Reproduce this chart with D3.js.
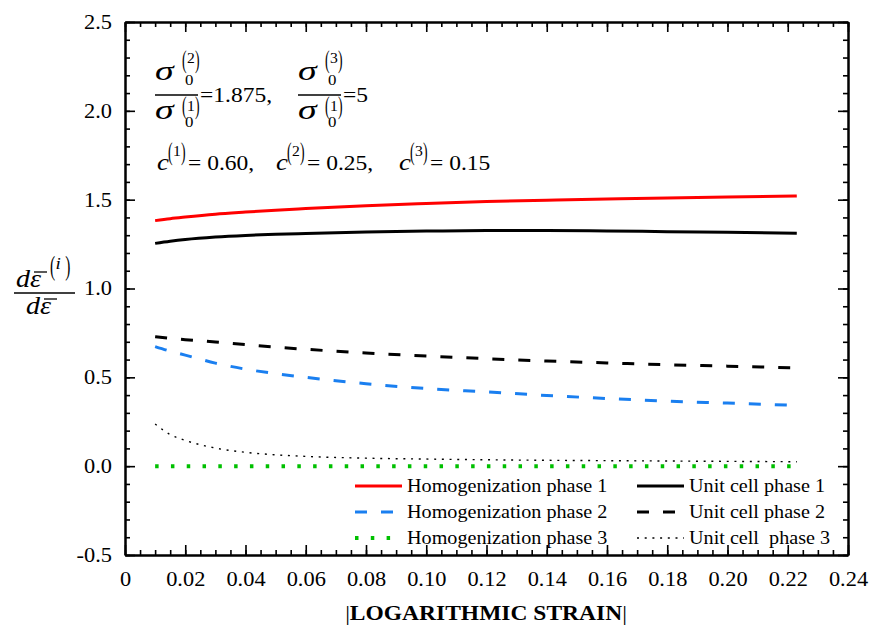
<!DOCTYPE html>
<html><head><meta charset="utf-8">
<script src="https://cdn.jsdelivr.net/npm/d3@7/dist/d3.min.js"></script>
<style>
body{margin:0;background:#fff;}
svg{display:block;}
svg text{font-family:"Liberation Serif","Times New Roman",serif;}
</style></head>
<body><svg id="c" width="872" height="627"></svg>
<script>
// ---- data ----
const strain = [0.01,0.015,0.02,0.03,0.04,0.05,0.06,0.08,0.10,0.12,0.14,0.16,0.18,0.20,0.223];
const homog1 = [1.382,1.393,1.402,1.418,1.430,1.441,1.450,1.466,1.478,1.489,1.497,1.504,1.510,1.515,1.521];
const cell1  = [1.254,1.266,1.276,1.290,1.299,1.305,1.310,1.318,1.323,1.326,1.326,1.324,1.320,1.316,1.311];
const homog2 = [0.673,0.647,0.625,0.580,0.546,0.521,0.500,0.464,0.437,0.418,0.398,0.381,0.366,0.355,0.342];
const cell2  = [0.729,0.720,0.712,0.699,0.684,0.670,0.658,0.637,0.620,0.605,0.592,0.581,0.571,0.563,0.553];
const homog3 = [0,0,0,0,0,0,0,0,0,0,0,0,0,0,0];
const cell3  = [0.237,0.178,0.145,0.102,0.078,0.064,0.055,0.045,0.040,0.036,0.033,0.031,0.029,0.027,0.025];
const seriesNames = ["Homogenization phase 1","Homogenization phase 2","Homogenization phase 3",
                     "Unit cell phase 1","Unit cell phase 2","Unit cell  phase 3"];
const xTickValues = [0,0.02,0.04,0.06,0.08,0.10,0.12,0.14,0.16,0.18,0.20,0.22,0.24];
const xTickLabels = ["0","0.02","0.04","0.06","0.08","0.10","0.12","0.14","0.16","0.18","0.20","0.22","0.24"];
const yTickValues = [-0.5,0,0.5,1.0,1.5,2.0,2.5];
const yTickLabels = ["-0.5","0.0","0.5","1.0","1.5","2.0","2.5"];
const xTitle = "LOGARITHMIC STRAIN";

// ---- layout ----
const SX = 1.12;
const FONT = "Liberation Serif";
const L = 125, R = 848, T = 22, B = 555;
const svg = d3.select("#c");
const x = d3.scaleLinear().domain([0,0.24]).range([L,R]);
const y = d3.scaleLinear().domain([-0.5,2.5]).range([B,T]);

const styles = [
  {c:"#ff0000", w:3, d:null},
  {c:"#1a7ff0", w:3, d:"12 14"},
  {c:"#00c000", w:4, d:"3.5 12.3"},
  {c:"#000000", w:3, d:null},
  {c:"#000000", w:3, d:"12 14"},
  {c:"#000000", w:1.4, d:"2 5.7"}
];
const allSeries = [homog1,homog2,homog3,cell1,cell2,cell3];

// axes
const xMinor = d3.range(0,0.2401,0.005);
const yMinor = d3.range(-0.5,2.501,0.1);
function styleAxis(g){
  g.attr("font-family",FONT);
  g.selectAll("path.domain").attr("stroke","#000").attr("stroke-width",2);
  g.selectAll(".tick line").attr("stroke","#000").attr("stroke-width",1.6);
}
function plainAxis(axis, tx, ty){
  svg.append("g").attr("transform",`translate(${tx},${ty})`)
    .call(axis).call(styleAxis).call(g=>g.selectAll("text").remove());
}
plainAxis(d3.axisBottom(x).tickValues(xMinor).tickSize(-5).tickSizeOuter(0).tickFormat(""),0,B);
plainAxis(d3.axisTop(x).tickValues(xMinor).tickSize(-5).tickSizeOuter(0).tickFormat(""),0,T);
plainAxis(d3.axisTop(x).tickValues(xTickValues).tickSize(-10).tickSizeOuter(0).tickFormat(""),0,T);
plainAxis(d3.axisLeft(y).tickValues(yMinor).tickSize(-5).tickSizeOuter(0).tickFormat(""),L,0);
plainAxis(d3.axisRight(y).tickValues(yMinor).tickSize(-5).tickSizeOuter(0).tickFormat(""),R,0);
plainAxis(d3.axisRight(y).tickValues(yTickValues).tickSize(-10).tickSizeOuter(0).tickFormat(""),R,0);

const gx = svg.append("g").attr("transform",`translate(0,${B})`)
  .call(d3.axisBottom(x).tickValues(xTickValues).tickSize(-10).tickSizeOuter(0).tickPadding(17)
     .tickFormat((d,i)=>xTickLabels[i]))
  .call(styleAxis);
gx.selectAll("text").attr("font-size",20).attr("font-family",FONT).attr("fill","#000")
  .attr("transform",`scale(${SX},1)`);
const gy = svg.append("g").attr("transform",`translate(${L},0)`)
  .call(d3.axisLeft(y).tickValues(yTickValues).tickSize(-10).tickSizeOuter(0).tickPadding(13)
     .tickFormat((d,i)=>yTickLabels[i]))
  .call(styleAxis);
gy.selectAll("text").attr("font-size",20).attr("font-family",FONT).attr("fill","#000")
  .attr("x",-13/SX).attr("transform",`scale(${SX},1)`);

// lines
const line = d3.line().x(d=>x(d[0])).y(d=>y(d[1])).curve(d3.curveMonotoneX);
allSeries.forEach((s,i)=>{
  const st = styles[i];
  svg.append("path").datum(strain.map((v,j)=>[v,s[j]]))
    .attr("d",line).attr("fill","none").attr("stroke",st.c).attr("stroke-width",st.w)
    .attr("stroke-dasharray",st.d);
});

// text helper
function txt(px,py,str,size,opt={}){
  const sx = opt.sx || SX;
  const t = svg.append("text").attr("transform",`translate(${px},${py}) scale(${sx},1)`)
    .attr("font-size",size).attr("font-family",FONT).attr("fill","#000")
    .style("white-space","pre").text(str);
  if(opt.italic) t.attr("font-style","italic");
  if(opt.bold) t.attr("font-weight","bold");
  if(opt.anchor) t.attr("text-anchor",opt.anchor);
  return t;
}
function hline(x1,x2,yy,w=1.2){
  svg.append("line").attr("x1",x1).attr("x2",x2).attr("y1",yy).attr("y2",yy)
    .attr("stroke","#000").attr("stroke-width",w);
}
// parenthesised superscript: thin tall parentheses around a small label
function paren(x0, base, inner, pSize, iSize, iBase, iItalic){
  const psx = 0.55, pw = 0.333*pSize*psx, iw = 0.5*iSize*SX;
  txt(x0, base, "(", pSize, {sx:psx});
  txt(x0+pw+0.3, iBase, inner, iSize, {italic:iItalic});
  txt(x0+pw+iw+0.6, base, ")", pSize, {sx:psx});
}

// legend
const legCols = [355, 637];
const legRows = [486, 512, 538];
allSeries.forEach((s,i)=>{
  const col = Math.floor(i/3), row = i%3, st = styles[i];
  const lx = legCols[col], ly = legRows[row];
  svg.append("line").attr("x1",lx).attr("x2",lx+47).attr("y1",ly).attr("y2",ly)
    .attr("stroke",st.c).attr("stroke-width",st.w).attr("stroke-dasharray",st.d);
  txt(lx+52, ly+6, seriesNames[i], 18);
});

// x title
const xt = txt(486, 620, "", 21, {anchor:"middle"});
xt.append("tspan").text("|");
xt.append("tspan").attr("font-weight","bold").text(xTitle);
xt.append("tspan").text("|");

// y title: d eps-bar^(i) / d eps-bar
txt(16, 287, "d", 25, {italic:true});
txt(30, 287, "ε", 25, {italic:true});
hline(34, 47, 272, 1.3);
paren(50, 275, "i", 28, 17, 269, true);
hline(14, 75, 293, 1.3);
txt(26, 314, "d", 25, {italic:true});
txt(40, 314, "ε", 25, {italic:true});
hline(44, 57, 299, 1.3);

// annotations
function sigmaFrac(x0, top, bot){
  txt(x0, 80, "σ", 27, {italic:true, sx:1.4});
  txt(x0+30, 85, "0", 15);
  paren(x0+27, 68, top, 25, 14, 63, false);
  hline(x0, x0+43, 95, 1.3);
  txt(x0, 119, "σ", 27, {italic:true, sx:1.4});
  txt(x0+30, 127, "0", 15);
  paren(x0+27, 114, bot, 25, 14, 111, false);
}
sigmaFrac(155, "2", "1");
txt(200, 102, "=1.875,", 21);
sigmaFrac(298, "3", "1");
txt(343, 102, "=5", 21);

function cTerm(x0, sup, val){
  txt(x0, 170, "c", 24, {italic:true});
  paren(x0+11, 160, sup, 25, 14, 156, false);
  txt(x0+31, 170, "= " + val, 21);
}
cTerm(157, "1", "0.60,");
cTerm(276, "2", "0.25,");
cTerm(399, "3", "0.15");
</script></body></html>
